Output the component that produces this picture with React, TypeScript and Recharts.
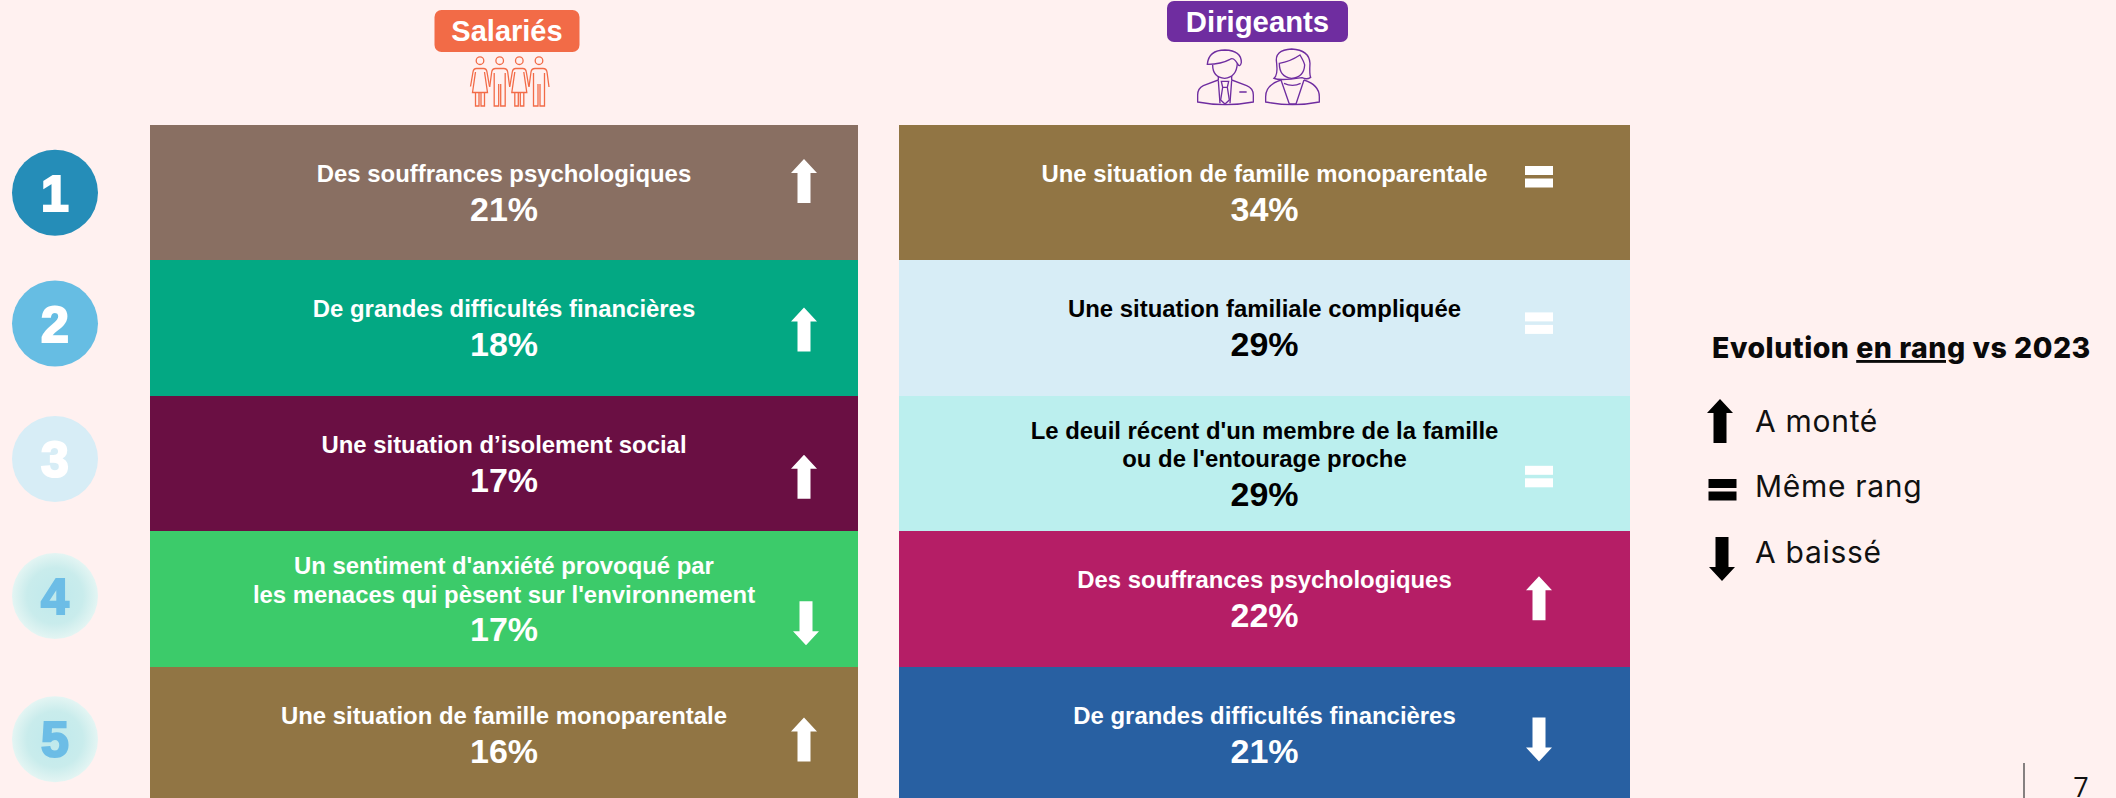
import React from 'react';
import { BarChart, Bar, XAxis, YAxis } from 'recharts';

const ranks = ['1', '2', '3', '4', '5'];

const salariesLabels = [
  'Des souffrances psychologiques',
  'De grandes difficultés financières',
  'Une situation d’isolement social',
  "Un sentiment d'anxiété provoqué par\nles menaces qui pèsent sur l'environnement",
  'Une situation de famille monoparentale',
];
const salariesValues = [21, 18, 17, 17, 16];
const salariesTrends = ['up', 'up', 'up', 'down', 'up'];

const dirigeantsLabels = [
  'Une situation de famille monoparentale',
  'Une situation familiale compliquée',
  "Le deuil récent d'un membre de la famille\nou de l'entourage proche",
  'Des souffrances psychologiques',
  'De grandes difficultés financières',
];
const dirigeantsValues = [34, 29, 29, 22, 21];
const dirigeantsTrends = ['same', 'same', 'same', 'up', 'down'];

const salariesFills = ['#896F62', '#03A883', '#6A0F43', '#3CCB6A', '#917544'];
const dirigeantsFills = ['#917544', '#D7EDF6', '#BBEFEE', '#B51E66', '#2860A2'];
const dirigeantsText = ['#fff', '#000', '#000', '#fff', '#fff'];

// marker top, relative to the row
const salariesMarkerY = [34, 47, 59, 70, 51];
const dirigeantsMarkerY = [41, 52, 70, 45, 51];

const rankFills = ['#258DB8', '#66BDE3', '#D7EDF6', 'url(#rankGlow)', 'url(#rankGlow)'];
const rankText = ['#fff', '#fff', '#fff', '#6CBDE6', '#6CBDE6'];
const rankNudge = [0, -4.5, -4.5, -3, 5];

const BG = '#FFF1F0';
const SANS = '"Liberation Sans", Arial, sans-serif';
const ROUND = 'Inter, "Open Sans", sans-serif';

const toRows = (labels: string[], values: number[], trends: string[]) =>
  ranks.map((rank, i) => ({ rank, label: labels[i], value: values[i], trend: trends[i] }));

function Marker({ kind, cx, top, fill }: { kind: string; cx: number; top: number; fill: string }) {
  if (kind === 'same') {
    return (
      <g fill={fill}>
        <rect x={cx - 14} y={top} width={28} height={9} />
        <rect x={cx - 14} y={top + 12.5} width={28} height={9} />
      </g>
    );
  }
  const up = `${cx},${top} ${cx + 13},${top + 14} ${cx + 6.5},${top + 14} ${cx + 6.5},${top + 44} ${cx - 6.5},${top + 44} ${cx - 6.5},${top + 14} ${cx - 13},${top + 14}`;
  const down = `${cx},${top + 44} ${cx + 13},${top + 30} ${cx + 6.5},${top + 30} ${cx + 6.5},${top} ${cx - 6.5},${top} ${cx - 6.5},${top + 30} ${cx - 13},${top + 30}`;
  return <polygon points={kind === 'up' ? up : down} fill={fill} />;
}

function RankTick({ y, index, payload }: any) {
  const cy = y + rankNudge[index];
  return (
    <g>
      <circle cx={55} cy={cy} r={43} fill={rankFills[index]} />
      <text
        x={55}
        y={cy + 18}
        textAnchor="middle"
        fontFamily={SANS}
        fontWeight={700}
        fontSize={50}
        fill={rankText[index]}
        stroke={rankText[index]}
        strokeWidth={2.2}
      >
        {payload.value}
      </text>
    </g>
  );
}

function RowShape(props: any, fills: string[], markerY: number[], colors: string[] | null, markerX: number) {
  const { x, y, width, height, index, payload } = props;
  const color = colors ? colors[index] : '#fff';
  const cx = x + width / 2;
  const lines: string[] = payload.label.split('\n');
  const two = lines.length > 1;
  const kind = payload.trend;
  const top = Math.round(y);
  return (
    <g>
      <rect x={x} y={top} width={width} height={height + 1} fill={fills[index]} shapeRendering="crispEdges" />
      {lines.map((line, i) => (
        <text
          key={line}
          x={cx}
          y={y + (two ? 43 + i * 28.5 : 57)}
          textAnchor="middle"
          fontFamily={SANS}
          fontWeight={700}
          fontSize={23.9}
          fill={color}
        >
          {line}
        </text>
      ))}
      <text
        x={cx}
        y={y + (two ? 110 : 96)}
        textAnchor="middle"
        fontFamily={SANS}
        fontWeight={700}
        fontSize={34}
        fill={color}
      >
        {payload.value}%
      </text>
      <Marker kind={kind} cx={x + markerX + (kind === 'down' && markerX > 650 ? 2 : 0)} top={y + markerY[index]} fill="#fff" />
    </g>
  );
}

function Panel({ left, width, yWidth, rows, render }: any) {
  return (
    <div style={{ position: 'absolute', left, top: 0 }}>
      <BarChart
        width={width}
        height={802}
        data={rows}
        layout="vertical"
        barCategoryGap={0}
        margin={{ top: 125, right: 0, bottom: 0, left: 0 }}
      >
        <defs>
          <radialGradient id="rankGlow">
            <stop offset="0%" stopColor="#BFE9EC" />
            <stop offset="65%" stopColor="#C9ECEC" />
            <stop offset="100%" stopColor="#E4F5F3" />
          </radialGradient>
        </defs>
        <XAxis type="number" hide domain={[0, 1]} />
        <YAxis
          type="category"
          dataKey="rank"
          width={yWidth}
          hide={yWidth === 0}
          axisLine={false}
          tickLine={false}
          interval={0}
          tick={RankTick}
        />
        <Bar dataKey={() => 1} isAnimationActive={false} shape={render} />
      </BarChart>
    </div>
  );
}

function Badge({ x, w, y, h, fill, label, size }: any) {
  return (
    <g>
      <rect x={x} y={y} width={w} height={h} rx={7} fill={fill} />
      <text
        x={x + w / 2}
        y={y + h / 2 + 10}
        textAnchor="middle"
        fontFamily={SANS}
        fontWeight={700}
        fontSize={size}
        fill="#fff"
      >
        {label}
      </text>
    </g>
  );
}

function Woman({ cx }: { cx: number }) {
  return (
    <g transform={`translate(${cx} 0)`}>
      <circle cx={0} cy={60.7} r={3.8} />
      <path d="M-3.5 68.5H3.5Q6.5 68.5 7 72L9.5 86.5M-3.5 68.5Q-6.5 68.5 -7 72L-9.5 86.5M-4.5 72L-7.5 92.5H7.5L4.5 72M-4.5 92.5V106H-1V92.5M1 92.5V106H4.5V92.5" />
    </g>
  );
}

function Man({ cx }: { cx: number }) {
  return (
    <g transform={`translate(${cx} 0)`}>
      <circle cx={0} cy={60.7} r={3.8} />
      <path d="M-4 68.5H4Q7.5 68.5 8 72L10 87M-4 68.5Q-7.5 68.5 -8 72L-10 87M-5.5 73V106H-1V84M1 84V106H5.5V73" />
    </g>
  );
}

function BustIcons() {
  return (
    <g transform="translate(1150 0) scale(0.3333)" fill="none" stroke="#6F2DA0" strokeWidth={4}>
      <path d="M172 193Q176 150 225 150Q275 152 274 188Q270 205 262 190Q250 170 240 178Q215 192 172 193Z" />
      <path d="M188 195Q188 232 224 235Q260 232 262 190" />
      <path d="M205 228V240L160 257Q143 265 143 285V306Q225 322 310 306V285Q310 265 290 257L245 240V228" />
      <path d="M205 242L210 310M245 242L240 310" />
      <path d="M214 244H236L232 262L238 300L225 312L212 300L218 262ZM218 262H232M268 276H290" />
      <path d="M372 235Q384 225 380 190Q372 150 425 147Q478 150 480 190Q478 225 482 232Q470 240 456 233Q390 243 372 235Z" />
      <path d="M388 190Q420 185 450 165Q462 185 464 195Q462 232 425 235Q388 232 388 190Z" />
      <path d="M393 240Q347 255 347 290V306Q428 322 508 306V290Q508 255 462 240" />
      <path d="M393 240L418 312H438L462 240M402 250Q428 262 452 250" />
    </g>
  );
}

function Overlay() {
  return (
    <svg width={2116} height={798} style={{ position: 'absolute', left: 0, top: 0 }}>
      <Badge x={434.5} w={145} y={10} h={42} fill="#F26B47" label="Salariés" size={29} />
      <Badge x={1167} w={181} y={1} h={41} fill="#6F2DA0" label="Dirigeants" size={29.3} />
      <g fill="none" stroke="#F26B47" strokeWidth={1.3}>
        <Woman cx={480} />
        <Man cx={499.7} />
        <Woman cx={519.3} />
        <Man cx={539} />
      </g>
      <BustIcons />

      <text x={1712} y={358} fontFamily={ROUND} fontWeight={800} fontSize={28.5} letterSpacing={0.5} fill="#0A0A0A">
        Evolution <tspan textDecoration="underline">en rang</tspan> vs 2023
      </text>
      <Marker kind="up" cx={1720} top={399} fill="#000" />
      <text x={1755} y={432} fontFamily={ROUND} fontSize={30} letterSpacing={0.7} fill="#111">A monté</text>
      <Marker kind="same" cx={1722.5} top={479} fill="#000" />
      <text x={1755} y={497} fontFamily={ROUND} fontSize={30} letterSpacing={0.7} fill="#111">Même rang</text>
      <Marker kind="down" cx={1722} top={537} fill="#000" />
      <text x={1755} y={563} fontFamily={ROUND} fontSize={30} letterSpacing={0.7} fill="#111">A baissé</text>

      <line x1={2024} y1={763} x2={2024} y2={798} stroke="#444" strokeWidth={1.3} />
      <text x={2081} y={797} textAnchor="middle" fontFamily='"Open Sans", sans-serif' fontSize={27} fill="#111">7</text>
    </svg>
  );
}

export default function App() {
  const salaries = toRows(salariesLabels, salariesValues, salariesTrends);
  const dirigeants = toRows(dirigeantsLabels, dirigeantsValues, dirigeantsTrends);
  return (
    <div style={{ position: 'absolute', left: 0, top: 0, width: 2116, height: 798, overflow: 'hidden', background: BG }}>
      <Panel
        left={0}
        width={858}
        yWidth={150}
        rows={salaries}
        render={(p: any) => RowShape(p, salariesFills, salariesMarkerY, null, 654)}
      />
      <Panel
        left={899}
        width={731}
        yWidth={0}
        rows={dirigeants}
        render={(p: any) => RowShape(p, dirigeantsFills, dirigeantsMarkerY, dirigeantsText, 640)}
      />
      <Overlay />
    </div>
  );
}
